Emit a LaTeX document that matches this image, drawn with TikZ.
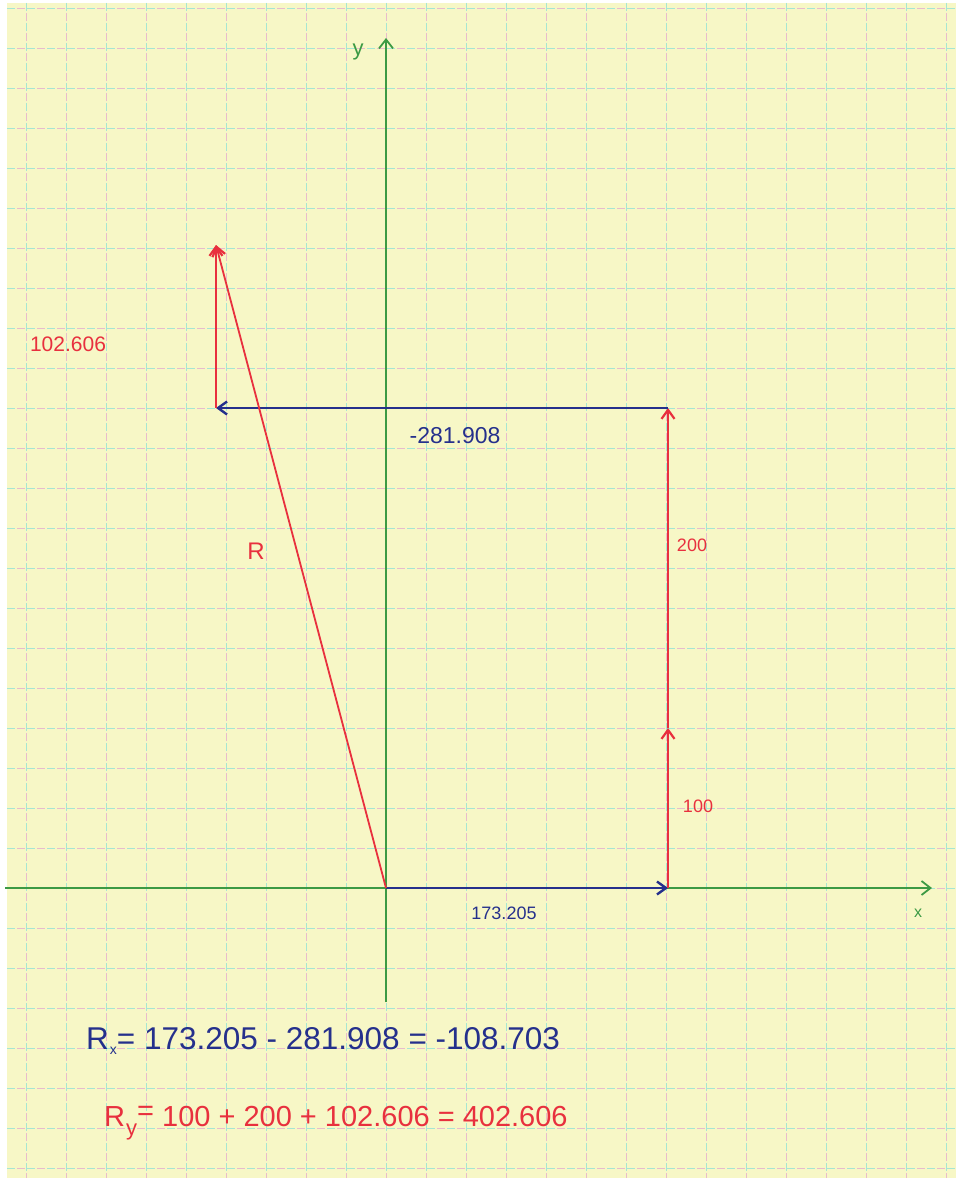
\documentclass[tikz,border=0pt]{standalone}
\usepackage{fontspec}
\setmainfont{Liberation Sans}
\usetikzlibrary{arrows.meta}
\definecolor{paper}{HTML}{F7F7C6}
\definecolor{gcyan}{HTML}{A6E6D2}
\definecolor{gpink}{HTML}{E8BCCB}
\definecolor{penred}{HTML}{E8303E}
\definecolor{penblue}{HTML}{25308C}
\definecolor{pengreen}{HTML}{3C9A44}
\tikzset{
  gridc/.style={gcyan, line width=0.8pt, dash pattern=on 8pt off 12pt},
  gridp/.style={gpink, line width=0.8pt, dash pattern=on 8pt off 12pt, dash phase=10pt},
  axis/.style={pengreen, line width=1.8pt, -{Straight Barb[length=9pt,width=14pt,line width=1.8pt]}},
  vecred/.style={penred, line width=2.2pt, -{Straight Barb[length=9pt,width=13pt,line width=2.2pt]}},
  vecblue/.style={penblue, line width=2.8pt, -{Straight Barb[length=9pt,width=13pt,line width=2.4pt]}},
  lbl/.style={inner sep=0pt, font=\fontsize{18}{20}\selectfont},
}
\begin{document}
\begin{tikzpicture}[x=1pt,y=-1pt]
\useasboundingbox (0,0) rectangle (959,1180);
\fill[white] (0,0) rectangle (959,1180);
\fill[paper] (7,3) rectangle (956,1178);
% grid
\foreach \i in {0,...,23} {
  \draw[gridc] (26+40*\i,3) -- (26+40*\i,1178);
  \draw[gridp] (26+40*\i,3) -- (26+40*\i,1178);
}
\foreach \j in {0,...,29} {
  \draw[gridc] (7,8+40*\j) -- (956,8+40*\j);
  \draw[gridp] (7,8+40*\j) -- (956,8+40*\j);
}
% points
\coordinate (O) at (386,888);
\coordinate (A) at (668,888);
\coordinate (B) at (668,728);
\coordinate (C) at (668,408);
\coordinate (D) at (216,408);
\coordinate (E) at (216,245);
\coordinate (xs) at (5,888);
\coordinate (xe) at (932,888);
\coordinate (ys) at (386,1002);
\coordinate (ye) at (386,38);
% axes
\draw[axis] (xs) -- (xe);
\draw[axis] (ys) -- (ye);
\node[pengreen, lbl, font=\fontsize{16}{18}\selectfont] (xl) at (918,913) {x};
\node[pengreen, lbl, font=\fontsize{22}{24}\selectfont] (yl) at (358,52) {y};
% vectors
\draw[vecblue] (O) -- (A);
\draw[vecred] (A) -- (B);
\draw[vecred] (B) -- (C);
\draw[vecblue] (C) -- (D);
\draw[vecred] (D) -- (E);
\draw[vecred, line width=1.8pt] (O) -- (E);
% labels
\node[penblue, lbl] (l1) at (504,913) {173.205};
\node[penred, lbl] (l2) at (698,806) {100};
\node[penred, lbl] (l3) at (692,545) {200};
\node[penblue, lbl, font=\fontsize{23}{24}\selectfont] (l4) at (455,436) {-281.908};
\node[penred, lbl, font=\fontsize{21}{24}\selectfont] (l5) at (68,344) {102.606};
\node[penred, lbl, font=\fontsize{24}{26}\selectfont] (l6) at (256,551) {R};
% equations
\node[penblue, lbl, anchor=west, font=\fontsize{31.5}{33}\selectfont] (rx) at (86,1041)
  {R\kern1pt\raisebox{-5pt}{\fontsize{14}{14}\selectfont x}= 173.205 - 281.908 = -108.703};
\node[penred, lbl, anchor=west, font=\fontsize{29}{31}\selectfont] (ry) at (104,1123)
  {R\kern1pt\raisebox{-9pt}{\fontsize{22}{22}\selectfont y}\raisebox{6pt}{=} 100 + 200 + 102.606 = 402.606};
\end{tikzpicture}
\end{document}
